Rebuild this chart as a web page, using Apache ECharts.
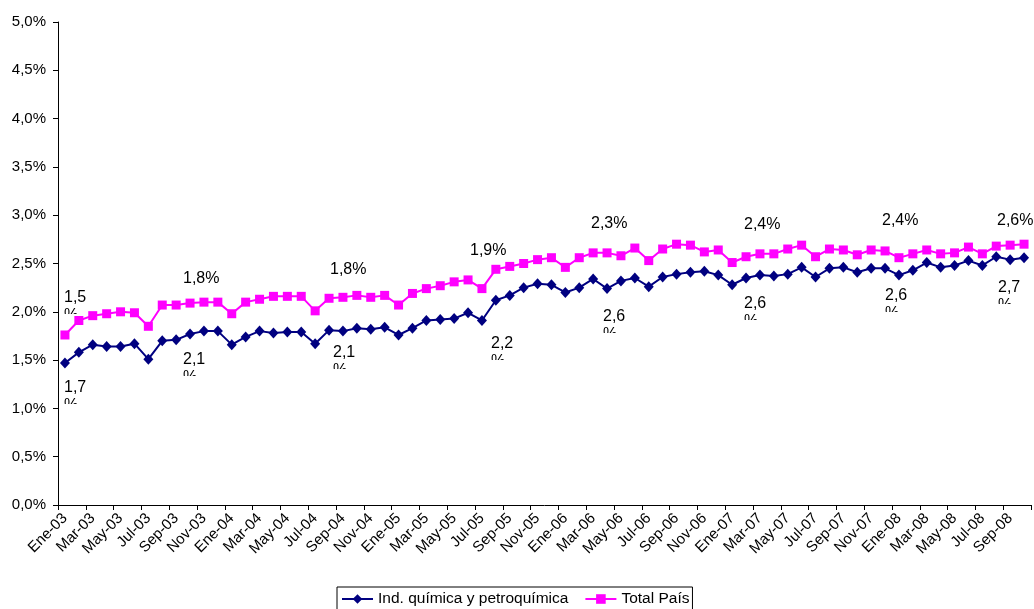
<!DOCTYPE html>
<html>
<head>
<meta charset="utf-8">
<script src="https://cdn.jsdelivr.net/npm/echarts@6/dist/echarts.min.js"></script>
<style>
html,body{margin:0;padding:0;background:#fff;}
#chart{width:1034px;height:609px;}
</style>
</head>
<body>
<div id="chart"></div>
<script>
var categories = [
'Ene-03','Feb-03','Mar-03','Abr-03','May-03','Jun-03','Jul-03','Ago-03','Sep-03','Oct-03','Nov-03','Dic-03',
'Ene-04','Feb-04','Mar-04','Abr-04','May-04','Jun-04','Jul-04','Ago-04','Sep-04','Oct-04','Nov-04','Dic-04',
'Ene-05','Feb-05','Mar-05','Abr-05','May-05','Jun-05','Jul-05','Ago-05','Sep-05','Oct-05','Nov-05','Dic-05',
'Ene-06','Feb-06','Mar-06','Abr-06','May-06','Jun-06','Jul-06','Ago-06','Sep-06','Oct-06','Nov-06','Dic-06',
'Ene-07','Feb-07','Mar-07','Abr-07','May-07','Jun-07','Jul-07','Ago-07','Sep-07','Oct-07','Nov-07','Dic-07',
'Ene-08','Feb-08','Mar-08','Abr-08','May-08','Jun-08','Jul-08','Ago-08','Sep-08','Oct-08'
];
var seriesNames = ['Ind. química y petroquímica', 'Total País'];
var quimica = [
1.47,1.58,1.66,1.64,1.64,1.67,1.51,1.70,1.71,1.77,1.80,1.80,
1.66,1.74,1.80,1.78,1.79,1.79,1.67,1.81,1.80,1.83,1.82,1.84,
1.76,1.83,1.91,1.92,1.93,1.99,1.91,2.12,2.17,2.25,2.29,2.28,
2.20,2.25,2.34,2.24,2.32,2.35,2.26,2.36,2.39,2.41,2.42,2.38,
2.28,2.35,2.38,2.37,2.39,2.46,2.36,2.45,2.46,2.41,2.45,2.45,
2.38,2.43,2.51,2.46,2.48,2.53,2.48,2.57,2.54,2.56
];
var totalPais = [
1.76,1.91,1.96,1.98,2.00,1.99,1.85,2.07,2.07,2.09,2.10,2.10,
1.98,2.10,2.13,2.16,2.16,2.16,2.01,2.14,2.15,2.17,2.15,2.17,
2.07,2.19,2.24,2.27,2.31,2.33,2.24,2.44,2.47,2.50,2.54,2.56,
2.46,2.56,2.61,2.61,2.58,2.66,2.53,2.65,2.70,2.69,2.62,2.64,
2.51,2.57,2.60,2.60,2.65,2.69,2.57,2.65,2.64,2.59,2.64,2.63,
2.56,2.60,2.64,2.60,2.61,2.67,2.60,2.68,2.69,2.70
];
var yTickValues = [0,0.5,1,1.5,2,2.5,3,3.5,4,4.5,5];
// annotation texts (text, wrapped second line "%" clipped)
var annotationTexts = ['1,5','1,7','1,8%','2,1','1,8%','2,1','1,9%','2,2','2,3%','2,6','2,4%','2,6','2,4%','2,6','2,6%','2,7'];
var annotationWrapped = [true,true,false,true,false,true,false,true,false,true,false,true,false,true,false,true];
// layout only: left x, centre y (pixels)
var annotationLayout = [[64,298],[64,388],[183,279],[183,360],[330,270],[333,353],[470,251],[491,344],[591,224],[603,317],[744,225],[744,304],[882,221],[885,296],[997,221],[998,288]];

var FONT = '"Liberation Sans", Arial, sans-serif';
var chart = echarts.init(document.getElementById('chart'), null, {renderer:'canvas'});

var graphics = [];
annotationTexts.forEach(function(t, i){
  var p = annotationLayout[i];
  graphics.push({type:'text', x:p[0], y:p[1], z:0, silent:true,
    style:{text:t, fill:'#000', font:'16px ' + FONT, textVerticalAlign:'middle', verticalAlign:'middle'}});
  if (annotationWrapped[i]) {
    graphics.push({type:'text', x:p[0], y:p[1]+18, z:0, silent:true,
      style:{text:'%', fill:'#000', font:'16px ' + FONT, textVerticalAlign:'middle', verticalAlign:'middle'}});
    graphics.push({type:'rect', x:p[0]-2, y:p[1]+16, z:1, silent:true,
      shape:{width:20, height:14}, style:{fill:'#fff'}});
  }
});

var option = {
  animation:false,
  backgroundColor:'#fff',
  textStyle:{fontFamily:FONT},
  grid:{left:58, right:3, top:22, bottom:104, containLabel:false},
  legend:{
    left:337, top:587, orient:'horizontal',
    data:seriesNames,
    borderColor:'#000', borderWidth:1, padding:[4,3,4,4],
    itemGap:16, itemWidth:31, itemHeight:12,
    textStyle:{fontSize:15.5, color:'#000', fontFamily:FONT}
  },
  xAxis:{
    type:'category', data:categories, boundaryGap:true,
    axisLine:{lineStyle:{color:'#000', width:1}},
    axisTick:{show:true, interval:1, length:5, lineStyle:{color:'#000'}},
    axisLabel:{interval:1, rotate:45, fontSize:15, color:'#000', margin:11, fontFamily:FONT},
    splitLine:{show:false}
  },
  yAxis:{
    type:'value', min:0, max:5, interval:0.5,
    axisLine:{show:true, lineStyle:{color:'#000', width:1}},
    axisTick:{show:true, length:5, lineStyle:{color:'#000'}},
    axisLabel:{fontSize:15, color:'#000', margin:12, fontFamily:FONT,
      formatter:function(v){ return v.toFixed(1).replace('.', ',') + '%'; }},
    splitLine:{show:false}
  },
  series:[
    {name:seriesNames[0], type:'line', data:quimica, z:3,
     symbol:'diamond', symbolSize:[10,11], showAllSymbol:true,
     lineStyle:{color:'#000080', width:2}, itemStyle:{color:'#000080'}},
    {name:seriesNames[1], type:'line', data:totalPais, z:3,
     symbol:'rect', symbolSize:9, showAllSymbol:true,
     lineStyle:{color:'#FF00FF', width:2}, itemStyle:{color:'#FF00FF'}}
  ],
  graphic:graphics
};
chart.setOption(option);
</script>
</body>
</html>
